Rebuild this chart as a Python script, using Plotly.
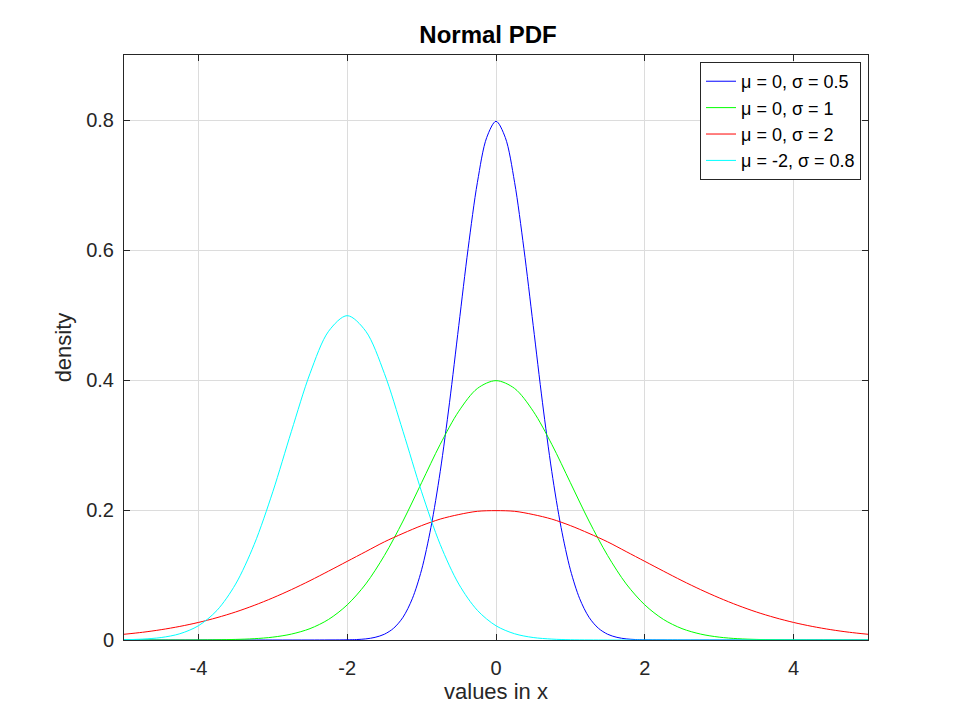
import plotly.graph_objects as go

x = [-5.0, -4.75, -4.5, -4.25, -4.0, -3.75, -3.5, -3.25, -3.0, -2.75, -2.5,
     -2.25, -2.0, -1.75, -1.5, -1.25, -1.0, -0.75, -0.5, -0.25, 0.0,
     0.25, 0.5, 0.75, 1.0, 1.25, 1.5, 1.75, 2.0, 2.25, 2.5,
     2.75, 3.0, 3.25, 3.5, 3.75, 4.0, 4.25, 4.5, 4.75, 5.0]

# the narrow blue curve is read more finely around its peak
x_s05 = [-5.0, -4.0, -3.0, -2.5,
         -2.0, -1.875, -1.75, -1.625, -1.5, -1.375, -1.25, -1.125,
         -1.0, -0.875, -0.75, -0.625, -0.5, -0.375, -0.25, -0.125, 0.0,
         0.125, 0.25, 0.375, 0.5, 0.625, 0.75, 0.875, 1.0,
         1.125, 1.25, 1.375, 1.5, 1.625, 1.75, 1.875, 2.0,
         2.5, 3.0, 4.0, 5.0]
y_s05 = [0, 0, 0, 0,
         0.0003, 0.0007, 0.0017, 0.0041, 0.0089, 0.0182, 0.035, 0.0635,
         0.108, 0.173, 0.259, 0.365, 0.484, 0.602, 0.704, 0.773, 0.798,
         0.773, 0.704, 0.602, 0.484, 0.365, 0.259, 0.173, 0.108,
         0.0635, 0.035, 0.0182, 0.0089, 0.0041, 0.0017, 0.0007, 0.0003,
         0, 0, 0, 0]

y_s1 = [0, 0, 0, 0, 0.0001, 0.0004, 0.0009, 0.002, 0.0044, 0.0091, 0.0175,
        0.0317, 0.054, 0.0863, 0.130, 0.183, 0.242, 0.301, 0.352, 0.387, 0.399,
        0.387, 0.352, 0.301, 0.242, 0.183, 0.130, 0.0863, 0.054, 0.0317, 0.0175,
        0.0091, 0.0044, 0.002, 0.0009, 0.0004, 0.0001, 0, 0, 0, 0]

y_s2 = [0.0088, 0.0119, 0.0159, 0.0209, 0.027, 0.0344, 0.0431, 0.0533, 0.0648, 0.0775, 0.0913,
        0.106, 0.121, 0.136, 0.151, 0.164, 0.176, 0.186, 0.193, 0.198, 0.199,
        0.198, 0.193, 0.186, 0.176, 0.164, 0.151, 0.136, 0.121, 0.106, 0.0913,
        0.0775, 0.0648, 0.0533, 0.0431, 0.0344, 0.027, 0.0209, 0.0159, 0.0119, 0.0088]

y_m2 = [0.0004, 0.0014, 0.0038, 0.0096, 0.0219, 0.0456, 0.086, 0.147, 0.228, 0.321, 0.410,
        0.475, 0.499, 0.475, 0.410, 0.321, 0.228, 0.147, 0.086, 0.0456, 0.0219,
        0.0096, 0.0038, 0.0014, 0.0004, 0.0001, 0, 0, 0, 0, 0,
        0, 0, 0, 0, 0, 0, 0, 0, 0, 0]

names = ["μ = 0, σ = 0.5", "μ = 0, σ = 1", "μ = 0, σ = 2", "μ = -2, σ = 0.8"]
colors = ["#0000ff", "#00ff00", "#ff0000", "#00ffff"]
xs = [x_s05, x, x, x]
series = [y_s05, y_s1, y_s2, y_m2]

xtick_vals = [-4, -2, 0, 2, 4]
xtick_text = ["-4", "-2", "0", "2", "4"]
ytick_vals = [0, 0.2, 0.4, 0.6, 0.8]
ytick_text = ["0", "0.2", "0.4", "0.6", "0.8"]

fig = go.Figure()
for nm, col, xx, ys in zip(names, colors, xs, series):
    fig.add_trace(go.Scatter(x=xx, y=ys, name=nm, mode="lines",
                             line=dict(color=col, width=1, shape="spline", smoothing=0.9)))

axis_common = dict(showgrid=True, gridcolor="#dcdcdc", gridwidth=1,
                   showline=True, linecolor="#262626", linewidth=1, mirror="ticks",
                   ticks="inside", ticklen=6, tickcolor="#262626",
                   zeroline=False, layer="below traces",
                   tickfont=dict(size=20, color="#262626"))

fig.update_layout(
    width=960, height=720,
    paper_bgcolor="white", plot_bgcolor="white",
    font=dict(family="Liberation Sans, Arial, sans-serif", color="#262626"),
    margin=dict(l=116, r=100, t=47, b=88, autoexpand=False),
    title=dict(text="<b>Normal PDF</b>", x=0.5, xanchor="center",
               y=1 - 27 / 720, yanchor="middle",
               font=dict(size=24, color="black")),
    xaxis=dict(range=[-5, 5], tickvals=xtick_vals, ticktext=xtick_text,
               ticklabelstandoff=10,
               title=dict(text="values in x", font=dict(size=22, color="#262626"), standoff=2),
               **axis_common),
    yaxis=dict(range=[0, 0.9], tickvals=ytick_vals, ticktext=ytick_text,
               ticklabelstandoff=5,
               title=dict(text="density", font=dict(size=22, color="#262626"), standoff=8),
               **axis_common),
    legend=dict(x=0.9906, y=0.988, xanchor="right", yanchor="top",
                bgcolor="white", bordercolor="#262626", borderwidth=1,
                font=dict(size=18, color="black"),
                tracegroupgap=0, itemwidth=30),
    showlegend=True,
)

fig.write_html("out.html")
